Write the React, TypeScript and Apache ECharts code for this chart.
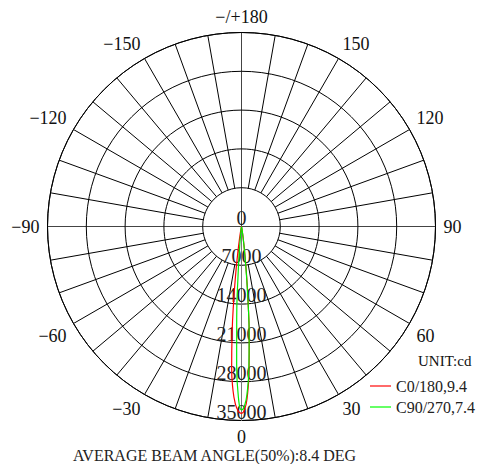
import React, { useEffect, useRef } from "react";
import * as echarts from "echarts";

// angles in degrees (0 = straight down, positive to the right)
const angles = [0, 1, 2, 3, 4, 5, 6, 7, 8, 9, 10, 12, 15, 20];
// C0/180 intensities (cd)
const redRight = [33700, 33000, 30500, 26000, 20000, 13500, 8500, 4800, 2500, 1200, 600, 150, 30, 0];
const redLeft = [33700, 33300, 32000, 29500, 25500, 19500, 13500, 8500, 4800, 2600, 1300, 350, 60, 0];
// C90/270 intensities (cd)
const greenRight = [33100, 32300, 29800, 25500, 19800, 13500, 8000, 4300, 2100, 1000, 450, 100, 20, 0];
const greenLeft = [33100, 31000, 25000, 16500, 9000, 4200, 1800, 700, 250, 100, 50, 10, 0, 0];

const radialTicks = [0, 7000, 14000, 21000, 28000, 35000];
const seriesNames = ["C0/180,9.4", "C90/270,7.4"];
const unitText = "UNIT:cd";
const footerText = "AVERAGE BEAM ANGLE(50%):8.4 DEG";

function buildLobe(left: number[], right: number[]) {
  const pts: [number, number][] = [];
  for (let i = angles.length - 1; i >= 0; i--) {
    pts.push([left[i], 360 - angles[i]]);
  }
  for (let i = 1; i < angles.length; i++) {
    pts.push([right[i], angles[i]]);
  }
  return pts;
}

const SERIF = "'Liberation Serif', 'DejaVu Serif', serif";

export default function App() {
  const ref = useRef<HTMLDivElement>(null);
  useEffect(() => {
    if (!ref.current) return;
    const chart = echarts.init(ref.current, undefined, { renderer: "svg" });
    const center = [241.5, 226.5];
    const R = 194;
    const option: any = {
      animation: false,
      backgroundColor: "#fff",
      polar: [
        { center, radius: [0, R] },
        { center, radius: [R / 5, R] },
        { center, radius: [0, R] },
      ],
      angleAxis: [
        {
          polarIndex: 0,
          type: "value",
          min: 0,
          max: 360,
          interval: 30,
          startAngle: 270,
          clockwise: false,
          axisLine: { show: true, lineStyle: { color: "#000", width: 1 } },
          axisTick: { show: false },
          splitLine: { show: false },
          axisLabel: {
            margin: 8,
            fontFamily: SERIF,
            fontSize: 18,
            lineHeight: 16,
            color: "#111",
            formatter: (v: number) => {
              if (v === 360) return "";
              if (v === 180) return "\u2212/+180";
              if (v > 180) return "\u2212" + (360 - v);
              return String(v);
            },
          },
        },
        {
          polarIndex: 1,
          type: "value",
          min: 0,
          max: 360,
          interval: 10,
          startAngle: 270,
          clockwise: false,
          axisLine: { show: false },
          axisTick: { show: false },
          axisLabel: { show: false },
          splitLine: { show: true, lineStyle: { color: "#000", width: 1 } },
        },
        {
          polarIndex: 2,
          type: "value",
          min: 0,
          max: 360,
          interval: 90,
          startAngle: 270,
          clockwise: false,
          axisLine: { show: false },
          axisTick: { show: false },
          axisLabel: { show: false },
          splitLine: { show: true, lineStyle: { color: "#444", width: 1 } },
        },
      ],
      radiusAxis: [
        {
          polarIndex: 0,
          type: "value",
          min: radialTicks[0],
          max: radialTicks[radialTicks.length - 1],
          interval: radialTicks[1] - radialTicks[0],
          axisLine: { show: true, lineStyle: { color: "#777", width: 1 } },
          axisTick: { show: false },
          splitLine: { show: true, lineStyle: { color: "#000", width: 1, type: "solid" } },
          axisLabel: {
            margin: 0,
            align: "center",
            verticalAlign: "bottom",
            fontFamily: SERIF,
            fontSize: 20,
            lineHeight: 18,
            color: "#222",
            formatter: (v: number) => String(v),
          },
          z: 5,
        },
        { polarIndex: 1, type: "value", min: 0, max: 1, show: false },
        { polarIndex: 2, type: "value", min: 0, max: 1, show: false },
      ],
      legend: {
        orient: "vertical",
        left: 365,
        top: 373,
        itemWidth: 21,
        itemHeight: 2,
        itemGap: 5,
        icon: "rect",
        textStyle: { fontFamily: SERIF, fontSize: 16, color: "#222" },
        data: [
          { name: seriesNames[0], itemStyle: { color: "#ff6a6a" } },
          { name: seriesNames[1], itemStyle: { color: "#66ff66" } },
        ],
      },
      graphic: [
        {
          type: "text",
          left: 418,
          top: 353,
          style: { text: unitText, font: `15px ${SERIF}`, fill: "#111" },
        },
        {
          type: "text",
          x: 214.5,
          y: 455,
          style: {
            text: footerText,
            font: `16px ${SERIF}`,
            lineHeight: 15,
            fill: "#222",
            align: "center",
            verticalAlign: "middle",
          },
        },
      ],
      series: [
        {
          name: seriesNames[0],
          type: "line",
          coordinateSystem: "polar",
          polarIndex: 0,
          data: buildLobe(redLeft, redRight),
          symbol: "none",
          smooth: true,
          lineStyle: { color: "#ff0000", width: 1.2 },
          itemStyle: { color: "#ff0000" },
          z: 10,
        },
        {
          name: seriesNames[1],
          type: "line",
          coordinateSystem: "polar",
          polarIndex: 0,
          data: buildLobe(greenLeft, greenRight),
          symbol: "none",
          smooth: true,
          lineStyle: { color: "#00ee00", width: 1.2 },
          itemStyle: { color: "#00ee00" },
          z: 11,
        },
      ],
    };
    chart.setOption(option);
    return () => chart.dispose();
  }, []);
  return (
    <div
      ref={ref}
      style={{ position: "absolute", left: 0, top: 0, width: 479, height: 464 }}
    />
  );
}
